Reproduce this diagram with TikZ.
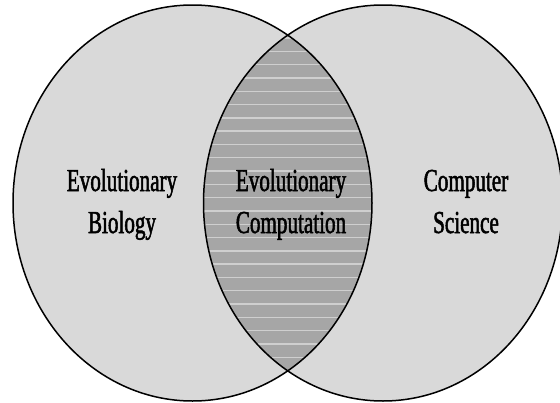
\documentclass[tikz,border=0pt]{standalone}
\usepackage{fontspec}
\setmainfont{Liberation Serif}[FakeStretch=0.66, FakeBold=1.6]
\definecolor{setgray}{HTML}{D9D9D9}
\definecolor{lensgray}{HTML}{A6A6A6}
\definecolor{stripegray}{HTML}{CFCFCF}
\begin{document}
\begin{tikzpicture}[x=1pt, y=-1pt, line join=round, line cap=round,
    vennlabel/.style={align=center, anchor=base, inner sep=0pt,
      font=\fontsize{32}{42}\selectfont},
    setline/.style={line width=1.5pt, black}]
  \def\rx{179.5pt}\def\ry{198pt}
  \useasboundingbox (0,0) rectangle (560,402);
  \coordinate (bio) at (192.5,203);
  \coordinate (cs) at (383,203);
  % the two sets
  \fill[setgray] (bio) ellipse [x radius=\rx, y radius=\ry];
  \fill[setgray] (cs) ellipse [x radius=\rx, y radius=\ry];
  % overlap, striped
  \begin{scope}
    \clip (bio) ellipse [x radius=\rx, y radius=\ry];
    \clip (cs) ellipse [x radius=\rx, y radius=\ry];
    \fill[lensgray] (195,30) rectangle (380,380);
    \foreach \y in {38,51.3,...,372}
      \draw[stripegray, line width=1.4pt] (195,\y) -- (380,\y);
  \end{scope}
  \draw[setline] (bio) ellipse [x radius=\rx, y radius=\ry];
  \draw[setline] (cs) ellipse [x radius=\rx, y radius=\ry];
  % labels
  \node[vennlabel] (biolabel) at (122,233) {Evolutionary\\Biology};
  \node[vennlabel] (eclabel) at (291,233) {Evolutionary\\Computation};
  \node[vennlabel] (cslabel) at (466,233) {Computer\\Science};
\end{tikzpicture}
\end{document}
